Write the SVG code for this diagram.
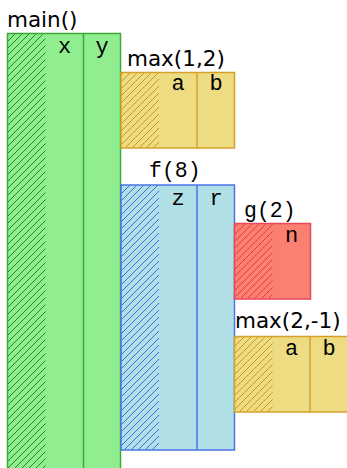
<svg xmlns="http://www.w3.org/2000/svg" width="347" height="468" viewBox="0 0 347 468">
<defs>
<pattern id="hg" width="7" height="7" patternUnits="userSpaceOnUse"><path d="M-1,1 l2,-2 M0,7 l7,-7 M6,8 l2,-2" stroke="#1f8a1f" stroke-width="1"/></pattern>
<pattern id="hy" width="7" height="7" patternUnits="userSpaceOnUse"><path d="M-1,1 l2,-2 M0,7 l7,-7 M6,8 l2,-2" stroke="#c8961e" stroke-width="1"/></pattern>
<pattern id="hb" width="7" height="7" patternUnits="userSpaceOnUse"><path d="M-1,1 l2,-2 M0,7 l7,-7 M6,8 l2,-2" stroke="#4169e1" stroke-width="1"/></pattern>
<pattern id="hr" width="7" height="7" patternUnits="userSpaceOnUse"><path d="M-1,1 l2,-2 M0,7 l7,-7 M6,8 l2,-2" stroke="#e23a4a" stroke-width="1"/></pattern>
</defs>
<style>
.t{font-family:"DejaVu Sans",sans-serif;font-size:21.5px;fill:#000}
.m{font-family:"Liberation Mono","DejaVu Sans Mono",monospace;font-size:21.5px;fill:#000}
.c{font-family:"Liberation Mono","DejaVu Sans Mono",monospace;font-size:22px;fill:#000;text-anchor:middle}
.green .box{fill:#90ee90;stroke:#3aa83a}
.green .div{stroke:#3aa83a}
.gold .box{fill:#eedc82;stroke:#d4a02a}
.gold .div{stroke:#d4a02a}
.blue .box{fill:#b0e0e6;stroke:#4a74e8}
.blue .div{stroke:#4a74e8}
.red .box{fill:#fa8072;stroke:#e8485a}
.box,.div{stroke-width:1.5}
</style>
<g id="connectors"></g>
<g id="main" class="green">
<rect class="box" x="7.5" y="33.5" width="113" height="445"/>
<rect x="8" y="34.2" width="37.5" height="440" fill="url(#hg)"/>
<line class="div" x1="83.5" y1="33.5" x2="83.5" y2="470"/>
<text class="t" x="7" y="27">main()</text>
<text class="c" x="64.5" y="53">x</text>
<text class="c" x="102" y="53">y</text>
</g>
<g id="max12" class="gold">
<rect class="box" x="121" y="72.5" width="113.5" height="75.5"/>
<rect x="121.7" y="73.2" width="37.3" height="74" fill="url(#hy)"/>
<line class="div" x1="197" y1="72.5" x2="197" y2="148"/>
<text class="t" x="127" y="66">max(1,2)</text>
<text class="c" x="178" y="90">a</text>
<text class="c" x="216" y="90">b</text>
</g>
<g id="f8" class="blue">
<rect class="box" x="121" y="185" width="113.5" height="265"/>
<rect x="121.7" y="185.7" width="37.3" height="263.6" fill="url(#hb)"/>
<line class="div" x1="197" y1="185" x2="197" y2="450"/>
<text class="m" x="149" y="177">f(8)</text>
<text class="c" x="178" y="205">z</text>
<text class="c" x="216" y="205">r</text>
</g>
<g id="g2" class="red">
<rect class="box" x="234.5" y="223.5" width="76" height="75.5"/>
<rect x="235.2" y="224.2" width="37.3" height="74" fill="url(#hr)"/>
<text class="m" x="244" y="217">g(2)</text>
<text class="c" x="291.5" y="242">n</text>
</g>
<g id="max2m1" class="gold">
<rect class="box" x="234.5" y="336.5" width="114" height="75.5"/>
<rect x="235.2" y="337.2" width="37.3" height="74" fill="url(#hy)"/>
<line class="div" x1="310" y1="336.5" x2="310" y2="412"/>
<text class="t" x="235" y="328">max(2,-1)</text>
<text class="c" x="291.5" y="355">a</text>
<text class="c" x="329" y="355">b</text>
</g>
</svg>
